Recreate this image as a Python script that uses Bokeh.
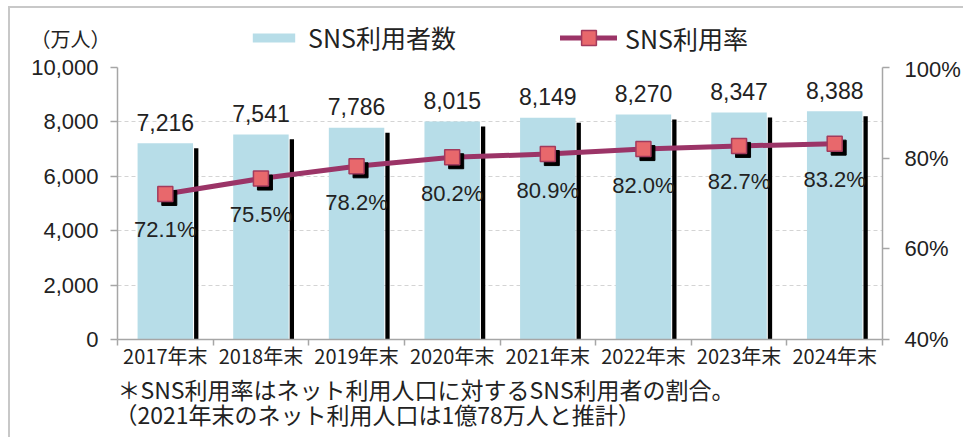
from bokeh.plotting import figure
from bokeh.layouts import column
from bokeh.models import (Range1d, LinearAxis, FixedTicker, NumeralTickFormatter,
                          PrintfTickFormatter, Legend, LegendItem, Label, ColumnDataSource)
from bokeh.core.properties import value
from bokeh.embed import file_html
from bokeh.resources import INLINE

# ---- data ----
categories = ["2017年末", "2018年末", "2019年末", "2020年末",
              "2021年末", "2022年末", "2023年末", "2024年末"]
users = [7216, 7541, 7786, 8015, 8149, 8270, 8347, 8388]          # 万人
rates = [72.1, 75.5, 78.2, 80.2, 80.9, 82.0, 82.7, 83.2]          # %
left_ticks = [0, 2000, 4000, 6000, 8000, 10000]
right_ticks = [40, 60, 80, 100]
series_names = ["SNS利用者数", "SNS利用率"]
unit_label = "（万人）"
notes = ["＊SNS利用率はネット利用人口に対するSNS利用者の割合。",
         "（2021年末のネット利用人口は1億78万人と推計）"]

# ---- styling ----
BAR_COLOR = "#b7dde8"
LINE_COLOR = "#9b3467"
MARK_FILL = "#e8686c"
MARK_LINE = "#a33a5c"
AXIS_COLOR = "#a6a6a6"
TXT = "#222222"
NUM_FONT = "Liberation Sans"
JP_FONT = "Noto Sans CJK JP"

W = 963
H_HEAD, H_MAIN, H_FOOT = 56, 316, 65
NAN = float("nan")

n = len(categories)
xs = [i + 0.5 for i in range(n)]
bar_w = 0.58
px_x = 766 / n                 # pixels per x unit
px_y = 273 / 10000             # pixels per 万人
px_r = 273 / 60                # pixels per %

src = ColumnDataSource(dict(
    x=xs,
    users=users,
    rates=rates,
    shadow_x=[x + bar_w / 2 + 3.2 / px_x for x in xs],
    shadow_top=[u - 5 / px_y for u in users],
    mshadow_x=[x + 4 / px_x for x in xs],
    mshadow_y=[r - 4 / px_r for r in rates],
    ulabel=[f"{u:,}" for u in users],
    rlabel=[f"{r:.1f}%" for r in rates],
))

# ================= header (unit label + legend) =================
hp = figure(width=W, height=H_HEAD, x_range=Range1d(0, W), y_range=Range1d(H_HEAD, 0),
            x_axis_type=None, y_axis_type=None, output_backend="svg",
            toolbar_location=None, min_border=0, frame_align=False)
hp.grid.visible = False
hp.outline_line_color = None
hp.border_fill_alpha = 0
hp.background_fill_alpha = 0

# legend-only renderers (no visible data points)
dummy_bar = hp.vbar(x=[NAN], top=[NAN], width=1, fill_color=BAR_COLOR, line_color=None)
dummy_line = hp.line(x=[NAN, NAN], y=[NAN, NAN], line_color=LINE_COLOR, line_width=5,
                     line_cap="round")
dummy_mark = hp.scatter(x=[NAN], y=[NAN], marker="square", size=15, fill_color=MARK_FILL,
                        line_color=MARK_LINE, line_width=1.5)

leg1 = Legend(items=[LegendItem(label=series_names[0], renderers=[dummy_bar])],
              location=(247, 1), glyph_width=53, glyph_height=11,
              label_standoff=8, padding=0, margin=0, spacing=0,
              border_line_color=None, background_fill_alpha=0,
              label_text_font=JP_FONT, label_text_font_size="25px",
              label_text_color=TXT)
leg2 = Legend(items=[LegendItem(label=series_names[1], renderers=[dummy_line, dummy_mark])],
              location=(560, 0), glyph_width=57, glyph_height=37,
              label_standoff=8, padding=0, margin=0, spacing=0,
              border_line_color=None, background_fill_alpha=0,
              label_text_font=JP_FONT, label_text_font_size="25px",
              label_text_color=TXT)
hp.add_layout(leg1)
hp.add_layout(leg2)
hp.add_layout(Label(x=70, y=38, text=unit_label, text_align="center",
                    text_baseline="middle", text_font=JP_FONT,
                    text_font_size="20px", text_color=TXT))

# ================= main chart =================
p = figure(width=W, height=H_MAIN, x_range=Range1d(0, n), y_range=Range1d(0, 10000),
           output_backend="svg", toolbar_location=None,
           min_border_left=117, min_border_right=W - 117 - 766,
           min_border_top=11, min_border_bottom=H_MAIN - 11 - 273, frame_align=False)
p.extra_y_ranges = {"rate": Range1d(40, 100)}
p.outline_line_color = None
p.background_fill_color = "white"
p.border_fill_alpha = 0

# grid
p.xgrid.visible = False
p.ygrid.ticker = FixedTicker(ticks=left_ticks)
p.ygrid.grid_line_color = "#d4d4d4"
p.ygrid.grid_line_dash = "4 3"
p.ygrid.grid_line_width = 1

# bars with shadow strip
p.vbar(x="shadow_x", top="shadow_top", bottom=0, width=4.3 / px_x, source=src,
       fill_color="black", line_color=None)
p.vbar(x="x", top="users", bottom=0, width=bar_w, source=src,
       fill_color=BAR_COLOR, line_color=None)

# line + markers
p.line(x="x", y="rates", source=src, y_range_name="rate",
       line_color=LINE_COLOR, line_width=5, line_cap="round")
p.scatter(x="mshadow_x", y="mshadow_y", source=src, y_range_name="rate",
          marker="square", size=15, fill_color="black", line_color="black")
p.scatter(x="x", y="rates", source=src, y_range_name="rate",
          marker="square", size=15, fill_color=MARK_FILL,
          line_color=MARK_LINE, line_width=1.5)

# data labels
p.text(x="x", y="users", text="ulabel", source=src, text_align="center",
       text_baseline="middle", y_offset=-21, text_font=value(NUM_FONT),
       text_font_size="23px", text_color=TXT)
p.text(x="x", y="rates", text="rlabel", source=src, y_range_name="rate",
       text_align="center", text_baseline="middle", y_offset=36,
       text_font=value(NUM_FONT), text_font_size="22px", text_color=TXT)

# axes
def style_axis(ax):
    ax.axis_line_color = AXIS_COLOR
    ax.axis_line_width = 1.5
    ax.major_tick_line_color = AXIS_COLOR
    ax.major_tick_line_width = 1.5
    ax.minor_tick_line_color = AXIS_COLOR
    ax.minor_tick_line_width = 1.5
    ax.major_tick_in = 0
    ax.minor_tick_in = 0
    ax.major_label_text_color = TXT

ya = p.yaxis[0]
ya.ticker = FixedTicker(ticks=left_ticks)
ya.formatter = NumeralTickFormatter(format="0,0")
style_axis(ya)
ya.major_tick_out = 7
ya.minor_tick_out = 0
ya.major_label_standoff = 12
ya.major_label_text_font = NUM_FONT
ya.major_label_text_font_size = "22px"

ra = LinearAxis(y_range_name="rate", ticker=FixedTicker(ticks=right_ticks),
                formatter=PrintfTickFormatter(format="%d%%"))
style_axis(ra)
ra.major_tick_out = 7
ra.minor_tick_out = 0
ra.major_label_standoff = 15
ra.major_label_text_font = NUM_FONT
ra.major_label_text_font_size = "22px"
p.add_layout(ra, "right")

xa = p.xaxis[0]
xa.ticker = FixedTicker(ticks=xs, minor_ticks=list(range(n + 1)))
xa.major_label_overrides = {x: c for x, c in zip(xs, categories)}
style_axis(xa)
xa.major_tick_out = 0
xa.minor_tick_out = 6
xa.major_label_standoff = -5
xa.major_label_text_font = JP_FONT
xa.major_label_text_font_size = "20px"

# ================= footer (notes) =================
y0 = H_HEAD + H_MAIN
fp = figure(width=W, height=H_FOOT, x_range=Range1d(0, W),
            y_range=Range1d(y0 + H_FOOT, y0),
            x_axis_type=None, y_axis_type=None, output_backend="svg",
            toolbar_location=None, min_border=0, frame_align=False)
fp.grid.visible = False
fp.outline_line_color = None
fp.border_fill_alpha = 0
fp.background_fill_alpha = 0
fp.add_layout(Label(x=117, y=388, text=notes[0], text_align="left",
                    text_baseline="middle", text_font=JP_FONT,
                    text_font_size="23px", text_color=TXT))
fp.add_layout(Label(x=114, y=413, text=notes[1], text_align="left",
                    text_baseline="middle", text_font=JP_FONT,
                    text_font_size="23px", text_color=TXT))

layout = column(hp, p, fp, spacing=0)
layout.styles = {
    "background-color": "white",
    "background-image": "linear-gradient(#c8c8c8,#c8c8c8), linear-gradient(#c8c8c8,#c8c8c8)",
    "background-size": "2px 100%, 100% 2px",
    "background-position": "8px 6px, 8px 6px",
    "background-repeat": "no-repeat",
}

open("out.html", "w").write(file_html(layout, INLINE))
